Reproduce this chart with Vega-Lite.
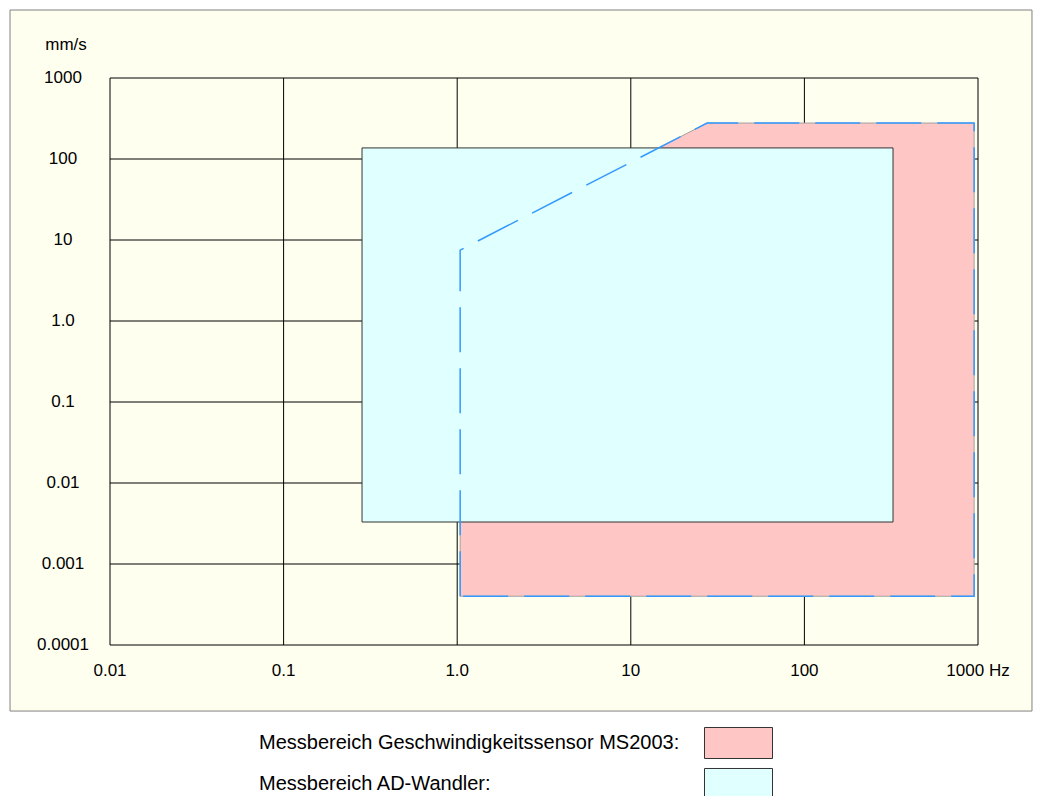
{
  "$schema": "https://vega.github.io/schema/vega-lite/v6.json",
  "autosize": {"type": "none"},
  "width": 868,
  "height": 567,
  "padding": {"left": 110, "top": 78, "right": 64, "bottom": 151},
  "background": "#FFFFEF",
  "config": {
    "font": "Liberation Sans",
    "view": {"stroke": null}
  },
  "datasets": {
    "outside": [
      {"x1": 0.00001, "x2": 1000000, "y1": 0.0000153, "y2": 0.000000001},
      {"x1": 0.00001, "x2": 1000000, "y1": 6910, "y2": 1000000000},
      {"x1": 0.00001, "x2": 0.002655, "y1": 1000000000, "y2": 0.000000001},
      {"x1": 2046, "x2": 1000000, "y1": 1000000000, "y2": 0.000000001}
    ],
    "panel": [{"x1": 0.002655, "x2": 2046, "y1": 6910, "y2": 0.0000153}],
    "xgrid": [
      {"f": 0.01, "label": "0.01"}, {"f": 0.1, "label": "0.1"}, {"f": 1, "label": "1.0"},
      {"f": 10, "label": "10"}, {"f": 100, "label": "100"}, {"f": 1000, "label": "1000 Hz"}
    ],
    "ygrid": [
      {"v": 1000, "label": "1000"}, {"v": 100, "label": "100"}, {"v": 10, "label": "10"}, {"v": 1, "label": "1.0"},
      {"v": 0.1, "label": "0.1"}, {"v": 0.01, "label": "0.01"}, {"v": 0.001, "label": "0.001"}, {"v": 0.0001, "label": "0.0001"}
    ],
    "unit": [{"f": 0.01, "v": 1000, "label": "mm/s"}],
    "sensor": [
      {"f": 1.04, "top": 7.5, "bottom": 0.0004, "series": "Messbereich Geschwindigkeitssensor MS2003:"},
      {"f": 27.5, "top": 278, "bottom": 0.0004, "series": "Messbereich Geschwindigkeitssensor MS2003:"},
      {"f": 950, "top": 278, "bottom": 0.0004, "series": "Messbereich Geschwindigkeitssensor MS2003:"}
    ],
    "adc": [{"f1": 0.283, "f2": 324, "v1": 0.0033, "v2": 137, "series": "Messbereich AD-Wandler:"}],
    "outline": [
      {"i": 0, "f": 1.04, "v": 0.0004},
      {"i": 1, "f": 1.04, "v": 7.5},
      {"i": 2, "f": 27.5, "v": 278},
      {"i": 3, "f": 950, "v": 278},
      {"i": 4, "f": 950, "v": 0.0004},
      {"i": 5, "f": 1.04, "v": 0.0004}
    ]
  },
  "layer": [
    {
      "data": {"name": "outside"},
      "mark": {"type": "rect", "fill": "#FFFFFF", "strokeWidth": 0, "clip": false},
      "encoding": {
        "x": {"field": "x1", "type": "quantitative", "scale": {"type": "log", "domain": [0.01, 1000], "nice": false}, "axis": null},
        "x2": {"field": "x2"},
        "y": {"field": "y1", "type": "quantitative", "scale": {"type": "log", "domain": [0.0001, 1000], "nice": false}, "axis": null},
        "y2": {"field": "y2"}
      }
    },
    {
      "data": {"name": "panel"},
      "mark": {"type": "rect", "fill": null, "fillOpacity": 0, "stroke": "#808080", "strokeWidth": 1, "clip": false},
      "encoding": {
        "x": {"field": "x1", "type": "quantitative", "scale": {"type": "log", "domain": [0.01, 1000], "nice": false}, "axis": null},
        "x2": {"field": "x2"},
        "y": {"field": "y1", "type": "quantitative", "scale": {"type": "log", "domain": [0.0001, 1000], "nice": false}, "axis": null},
        "y2": {"field": "y2"}
      }
    },
    {
      "data": {"name": "xgrid"},
      "mark": {"type": "rule", "color": "#000000", "strokeWidth": 1},
      "encoding": {
        "x": {"field": "f", "type": "quantitative", "scale": {"type": "log", "domain": [0.01, 1000], "nice": false}, "axis": null}
      }
    },
    {
      "data": {"name": "ygrid"},
      "mark": {"type": "rule", "color": "#000000", "strokeWidth": 1},
      "encoding": {
        "y": {"field": "v", "type": "quantitative", "scale": {"type": "log", "domain": [0.0001, 1000], "nice": false}, "axis": null}
      }
    },
    {
      "data": {"name": "xgrid"},
      "mark": {"type": "text", "align": "center", "baseline": "middle", "dy": 26, "fontSize": 17, "font": "Liberation Sans", "color": "#000000", "clip": false},
      "encoding": {
        "x": {"field": "f", "type": "quantitative", "scale": {"type": "log", "domain": [0.01, 1000], "nice": false}, "axis": null},
        "y": {"datum": 0.0001, "type": "quantitative", "scale": {"type": "log", "domain": [0.0001, 1000], "nice": false}, "axis": null},
        "text": {"field": "label", "type": "nominal"}
      }
    },
    {
      "data": {"name": "ygrid"},
      "mark": {"type": "text", "align": "center", "baseline": "middle", "dx": -47, "fontSize": 17, "font": "Liberation Sans", "color": "#000000", "clip": false},
      "encoding": {
        "x": {"datum": 0.01, "type": "quantitative", "scale": {"type": "log", "domain": [0.01, 1000], "nice": false}, "axis": null},
        "y": {"field": "v", "type": "quantitative", "scale": {"type": "log", "domain": [0.0001, 1000], "nice": false}, "axis": null},
        "text": {"field": "label", "type": "nominal"}
      }
    },
    {
      "data": {"name": "unit"},
      "mark": {"type": "text", "align": "center", "baseline": "middle", "dx": -44, "dy": -33, "fontSize": 17, "font": "Liberation Sans", "color": "#000000", "clip": false},
      "encoding": {
        "x": {"field": "f", "type": "quantitative", "scale": {"type": "log", "domain": [0.01, 1000], "nice": false}, "axis": null},
        "y": {"field": "v", "type": "quantitative", "scale": {"type": "log", "domain": [0.0001, 1000], "nice": false}, "axis": null},
        "text": {"field": "label", "type": "nominal"}
      }
    },
    {
      "data": {"name": "sensor"},
      "mark": {"type": "area", "stroke": "#A0A0A0", "strokeWidth": 1, "opacity": 1, "fillOpacity": 1},
      "encoding": {
        "x": {"field": "f", "type": "quantitative", "scale": {"type": "log", "domain": [0.01, 1000], "nice": false}, "axis": null},
        "y": {"field": "top", "type": "quantitative", "scale": {"type": "log", "domain": [0.0001, 1000], "nice": false}, "axis": null},
        "y2": {"field": "bottom"},
        "fill": {"field": "series", "type": "nominal",
          "scale": {"domain": ["Messbereich Geschwindigkeitssensor MS2003:", "Messbereich AD-Wandler:"], "range": ["#FFC6C6", "#E0FFFF"]},
          "legend": {"orient": "none", "legendX": 611, "legendY": 647.5, "direction": "vertical", "title": null,
            "symbolType": "M-2,-0.912H2V0.912H-2Z", "symbolSize": 1156, "symbolStrokeColor": "#333333", "symbolStrokeWidth": 1, "symbolOpacity": 1,
            "labelAlign": "left", "labelOffset": -497, "labelFontSize": 20, "labelFont": "Liberation Sans", "labelColor": "#000000", "labelLimit": 0,
            "rowPadding": 4}}
      }
    },
    {
      "data": {"name": "adc"},
      "mark": {"type": "rect", "stroke": "#333333", "strokeWidth": 1, "opacity": 1},
      "encoding": {
        "x": {"field": "f1", "type": "quantitative", "scale": {"type": "log", "domain": [0.01, 1000], "nice": false}, "axis": null},
        "x2": {"field": "f2"},
        "y": {"field": "v1", "type": "quantitative", "scale": {"type": "log", "domain": [0.0001, 1000], "nice": false}, "axis": null},
        "y2": {"field": "v2"},
        "fill": {"field": "series", "type": "nominal"}
      }
    },
    {
      "data": {"name": "outline"},
      "mark": {"type": "line", "color": "#3399FF", "strokeWidth": 1.5, "strokeDash": [45, 16]},
      "encoding": {
        "x": {"field": "f", "type": "quantitative", "scale": {"type": "log", "domain": [0.01, 1000], "nice": false}, "axis": null},
        "y": {"field": "v", "type": "quantitative", "scale": {"type": "log", "domain": [0.0001, 1000], "nice": false}, "axis": null},
        "order": {"field": "i", "type": "quantitative"}
      }
    }
  ]
}
